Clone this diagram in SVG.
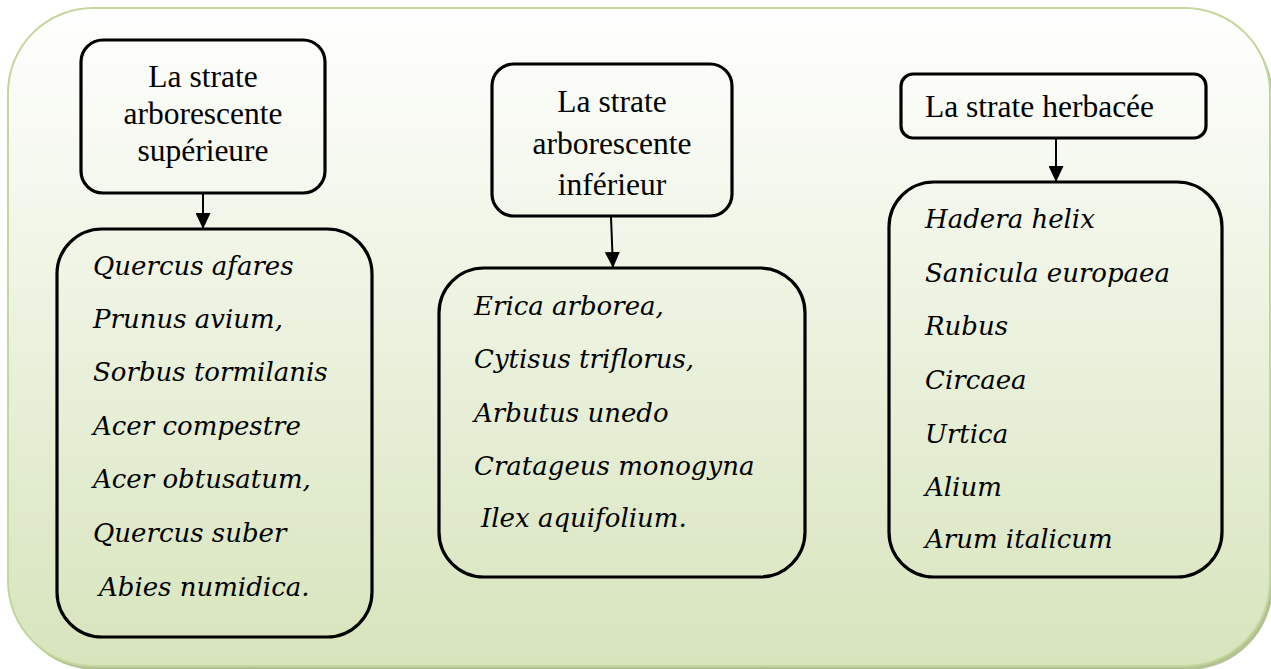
<svg xmlns="http://www.w3.org/2000/svg" width="1271" height="669" viewBox="0 0 1271 669">
<defs>
<linearGradient id="bg" x1="0" y1="0" x2="0" y2="1">
<stop offset="0" stop-color="#ffffff"/>
<stop offset="1" stop-color="#d7e4bc"/>
</linearGradient>
<marker id="arr" viewBox="0 0 16 15" refX="16" refY="7.5" markerWidth="16" markerHeight="15" markerUnits="userSpaceOnUse" orient="auto">
<path d="M0,0 L16,7.5 L0,15 Z" fill="#000"/>
</marker>
<style>
.box{fill:none;stroke:#000;stroke-width:3.2}
.hd{font-family:"Liberation Serif","Times New Roman",serif;font-size:31.5px;fill:#000}
.it{font-family:"DejaVu Serif",serif;font-style:italic;font-size:26px;fill:#000}
.con{stroke:#000;stroke-width:2;fill:none}
</style>
</defs>
<g id="background">
<rect x="11" y="12" width="1262" height="658" rx="85" fill="#b3c293"/>
<rect x="8" y="8" width="1262" height="658" rx="85" fill="url(#bg)" stroke="#c3d69b" stroke-width="2"/>
</g>
<g id="node-sup-header">
<rect class="box" x="81" y="40" width="244" height="153" rx="22"/>
<text class="hd" text-anchor="middle"><tspan x="203" y="87">La strate</tspan><tspan x="203" y="124">arborescente</tspan><tspan x="203" y="161">supérieure</tspan></text>
</g>
<g id="node-sup-list">
<rect class="box" x="57" y="229" width="315" height="408" rx="45"/>
<text class="it"><tspan x="93" y="275">Quercus afares</tspan><tspan x="93" y="328">Prunus avium,</tspan><tspan x="93" y="381">Sorbus tormilanis</tspan><tspan x="93" y="435">Acer compestre</tspan><tspan x="93" y="488">Acer obtusatum,</tspan><tspan x="93" y="542">Quercus suber</tspan><tspan x="99" y="596">Abies numidica.</tspan></text>
</g>
<g id="node-inf-header">
<rect class="box" x="492" y="64" width="240" height="152" rx="22"/>
<text class="hd" text-anchor="middle"><tspan x="612" y="112">La strate</tspan><tspan x="612" y="154">arborescente</tspan><tspan x="612" y="195">inférieur</tspan></text>
</g>
<g id="node-inf-list">
<rect class="box" x="439" y="268" width="366" height="309" rx="45"/>
<text class="it"><tspan x="474" y="315">Erica arborea,</tspan><tspan x="474" y="368">Cytisus triflorus,</tspan><tspan x="474" y="422">Arbutus unedo</tspan><tspan x="474" y="475">Cratageus monogyna</tspan><tspan x="481" y="527">Ilex aquifolium.</tspan></text>
</g>
<g id="node-herb-header">
<rect class="box" x="901" y="74" width="305" height="64" rx="12"/>
<text class="hd" x="925" y="117">La strate herbacée</text>
</g>
<g id="node-herb-list">
<rect class="box" x="889" y="182" width="333" height="395" rx="45"/>
<text class="it"><tspan x="925" y="228">Hadera helix</tspan><tspan x="925" y="282">Sanicula europaea</tspan><tspan x="925" y="335">Rubus</tspan><tspan x="925" y="389">Circaea</tspan><tspan x="925" y="443">Urtica</tspan><tspan x="925" y="496">Alium</tspan><tspan x="925" y="548">Arum italicum</tspan></text>
</g>
<g id="connectors">
<line class="con" x1="203" y1="194" x2="203" y2="229" marker-end="url(#arr)"/>
<line class="con" x1="611" y1="217" x2="613" y2="268" marker-end="url(#arr)"/>
<line class="con" x1="1056" y1="139" x2="1056" y2="182" marker-end="url(#arr)"/>
</g>
</svg>
